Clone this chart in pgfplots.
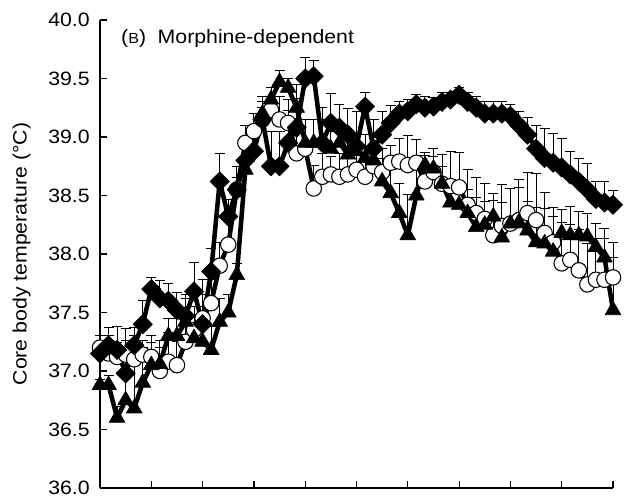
\documentclass[border=0pt]{standalone}
\usepackage{fontspec}
\setmainfont{Liberation Sans}[FakeStretch=1.1]
\usepackage{pgfplots}
\usepackage{pgfplotstable}
\pgfplotsset{compat=1.18}

\pgfplotstableread{
x y e
0 37.15 0.15
1 37.22 0.15
2 37.18 0.2
3 36.98 0.38
4 37.22 0.15
5 37.40 0.2
6 37.70 0.1
7 37.62 0.15
8 37.60 0.15
9 37.52 0.15
10 37.47 0.18
11 37.68 0.25
12 37.40 0.38
13 37.85 0.2
14 38.62 0.24
15 38.32 0.15
16 38.55 0.1
17 38.80 0.2
18 38.88 0.2
19 39.15 0.1
20 38.75 0.3
21 38.75 0.3
22 38.95 0.28
23 39.08 0.25
24 39.50 0.18
25 39.52 0.13
26 38.95 0.3
27 39.12 0.25
28 39.08 0.2
29 39.02 0.22
30 38.92 0.3
31 39.26 0.12
32 38.90 0.25
33 39.02 0.2
34 39.12 0.15
35 39.20 0.1
36 39.22 0.1
37 39.28 0.08
38 39.25 0.1
39 39.26 0.08
40 39.30 0.08
41 39.32 0.06
42 39.36 0.06
43 39.30 0.08
44 39.25 0.1
45 39.20 0.1
46 39.20 0.1
47 39.20 0.1
48 39.18 0.1
49 39.10 0.12
50 39.02 0.15
51 38.90 0.2
52 38.82 0.25
53 38.78 0.25
54 38.74 0.25
55 38.68 0.2
56 38.62 0.2
57 38.55 0.22
58 38.47 0.15
59 38.44 0.18
60 38.42 0.12
}\diam

\pgfplotstableread{
x y e
0 37.20 0.1
1 37.15 0.15
2 37.12 0.12
3 37.14 0.12
4 37.10 0.2
5 37.14 0.12
6 37.12 0.12
7 37.00 0.2
8 37.08 0.25
9 37.05 0.2
10 37.25 0.2
11 37.35 0.2
12 37.45 0.2
13 37.58 0.2
14 37.90 0.2
15 38.08 0.2
16 38.55 0.2
17 38.95 0.15
18 39.05 0.15
19 39.15 0.15
20 39.23 0.1
21 39.15 0.2
22 39.12 0.2
23 38.86 0.3
24 38.90 0.25
25 38.56 0.2
26 38.66 0.2
27 38.68 0.15
28 38.66 0.2
29 38.68 0.2
30 38.72 0.2
31 38.66 0.25
32 38.75 0.2
33 38.70 0.2
34 38.78 0.15
35 38.79 0.2
36 38.76 0.25
37 38.78 0.2
38 38.62 0.25
39 38.70 0.2
40 38.60 0.25
41 38.58 0.3
42 38.57 0.3
43 38.42 0.3
44 38.35 0.3
45 38.30 0.3
46 38.16 0.3
47 38.24 0.35
48 38.26 0.3
49 38.29 0.35
50 38.35 0.35
51 38.29 0.4
52 38.18 0.35
53 38.10 0.3
54 37.92 0.35
55 37.95 0.3
56 37.86 0.35
57 37.74 0.35
58 37.78 0.35
59 37.78 0.35
60 37.80 0.3
}\circ

\pgfplotstableread{
x y e
0 36.88 0.05
1 36.88 0.08
2 36.60 0.1
3 36.75 0.4
4 36.68 0.4
5 36.90 0.3
6 37.05 0.25
7 37.06 0.2
8 37.30 0.15
9 37.30 0.15
10 37.42 0.2
11 37.28 0.2
12 37.25 0.3
13 37.18 0.2
14 37.42 0.2
15 37.50 0.15
16 37.82 0.1
17 38.72 0.1
18 38.90 0.2
19 39.20 0.15
20 39.32 0.1
21 39.47 0.1
22 39.42 0.08
23 39.25 0.2
24 38.95 0.2
25 38.95 0.2
26 38.95 0.2
27 38.90 0.15
28 38.95 0.15
29 38.85 0.2
30 38.88 0.15
31 38.82 0.2
32 38.80 0.2
33 38.62 0.2
34 38.52 0.2
35 38.35 0.25
36 38.16 0.35
37 38.50 0.25
38 38.76 0.08
39 38.73 0.1
40 38.60 0.15
41 38.44 0.2
42 38.42 0.2
43 38.35 0.2
44 38.23 0.25
45 38.25 0.2
46 38.32 0.2
47 38.14 0.3
48 38.26 0.3
49 38.27 0.3
50 38.20 0.25
51 38.10 0.3
52 38.09 0.3
53 38.02 0.3
54 38.18 0.2
55 38.16 0.25
56 38.16 0.2
57 38.15 0.2
58 38.06 0.2
59 37.97 0.25
60 37.52 0.45
}\tri

\begin{document}
\begin{tikzpicture}
\begin{axis}[
  scale only axis,
  width=384.75pt, height=351pt,
  xmin=0, xmax=60, ymin=36, ymax=40,
  axis lines*=left,
  axis line style={line width=0.9pt},
  clip=false,
  xtick={0,6,...,60}, xticklabels={},
  ytick={36,36.5,...,40},
  tick align=inside,
  major tick length=5pt,
  tick style={line width=0.9pt, black},
  /pgf/number format/assume math mode=true,
  yticklabel={\pgfmathprintnumber[fixed,fixed zerofill,precision=1]{\tick}},
  yticklabel style={font=\fontsize{14.5}{16}\selectfont, inner sep=0pt, anchor=east, xshift=-7.5pt},
  error bars/y dir=plus,
  error bars/y explicit,
  error bars/error bar style={line width=0.7pt, black},
  error bars/error mark options={line width=0.7pt, mark size=3.75pt, black, rotate=90},
]
\addplot[black, line width=3.4pt, line join=round, mark=*, mark size=5.8pt,
  mark options={fill=white, draw=black, line width=0.8pt},
  error bars/.cd, y dir=plus, y explicit]
  table[x=x, y=y, y error=e] {\circ};
\addplot[black, line width=3.4pt, line join=round, mark=triangle*, mark size=6.8pt,
  mark options={fill=black, line width=0.5pt},
  error bars/.cd, y dir=plus, y explicit]
  table[x=x, y=y, y error=e] {\tri};
\addplot[black, line width=3.4pt, line join=round, mark=square*, mark size=5.1pt,
  mark options={fill=black, rotate=45, line width=0.5pt},
  error bars/.cd, y dir=plus, y explicit]
  table[x=x, y=y, y error=e] {\diam};
\node[anchor=base west, font=\fontsize{14.5}{16}\selectfont, inner sep=0pt]
  at (axis cs:2.45,39.80) {({\fontsize{11}{12}\selectfont B})\hspace{0.6em}Morphine-dependent};
\node[rotate=90, anchor=base, font=\fontsize{14.5}{16}\selectfont, inner sep=0pt]
  at ([xshift=-55pt]axis description cs:0,0.5) {Core body temperature (°C)};
\end{axis}
\pgfresetboundingbox
\path[use as bounding box] (current axis.south west) ++(-75pt,-9pt) rectangle ([xshift=8.25pt,yshift=15pt]current axis.north east);
\end{tikzpicture}
\end{document}
